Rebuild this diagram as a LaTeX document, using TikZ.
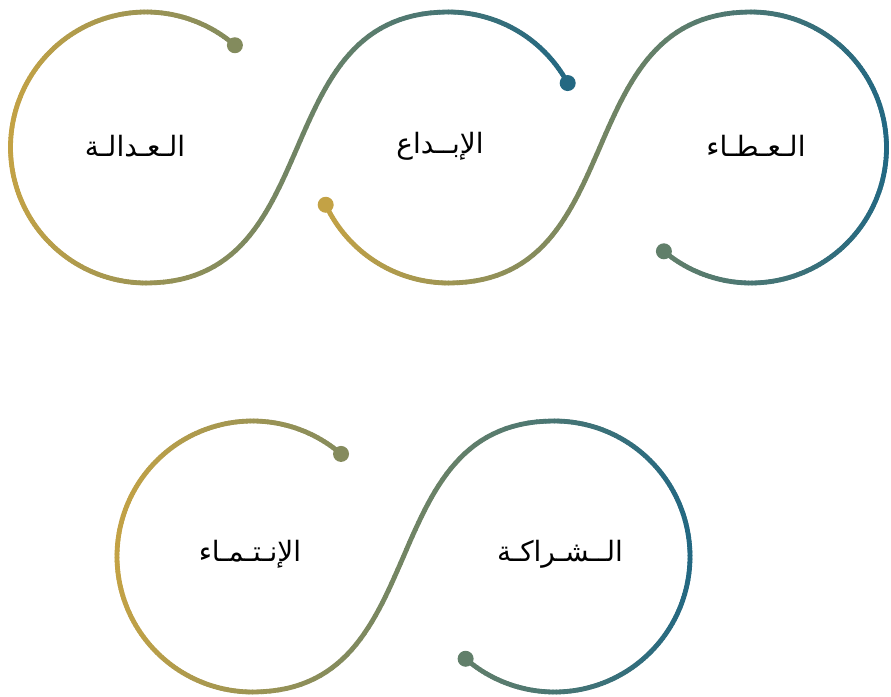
\documentclass[tikz,border=0pt]{standalone}
\usepackage{fontspec}
\newfontfamily\arabicfont[Script=Arabic]{DejaVu Sans}
\TeXXeTstate=1
\definecolor{cgold}{HTML}{C3A245}
\definecolor{cteal}{HTML}{236882}
\tikzset{
  arcline/.style={line width=4.8pt, line cap=round},
  lbl/.style={font=\arabicfont\fontsize{28}{32}\selectfont, text=black, inner sep=0pt}
}
% gradient arc: cx, cy, r, a0, a1, xmin, xmax
\newcommand{\gradarc}[7]{%
  \pgfmathtruncatemacro\gN{ceil(abs(#5-#4)/1.5)}%
  \pgfmathsetmacro\gS{(#5-#4)/\gN}%
  \foreach \gi in {1,...,\gN}{%
    \pgfmathsetmacro\gAa{#4+\gS*(\gi-1)}%
    \pgfmathsetmacro\gAb{#4+\gS*\gi}%
    \pgfmathsetmacro\gXm{#1+#3*cos((\gAa+\gAb)/2)}%
    \pgfmathsetmacro\gF{(\gXm-#6)/(#7-#6)}%
    \pgfmathtruncatemacro\gT{max(0,min(100,round(\gF*100)))}%
    \draw[arcline, draw=cteal!\gT!cgold] ({#1+#3*cos(\gAa)},{#2-#3*sin(\gAa)}) -- ({#1+#3*cos(\gAb)},{#2-#3*sin(\gAb)});%
  }%
}
% gradient S-curve (cubic Bezier, horizontal tangents): x0, y0, x3, y3, k, xmin, xmax
\newcommand{\gradbez}[7]{%
  \foreach \gi in {1,...,60}{%
    \pgfmathsetmacro\gta{(\gi-1)/60}%
    \pgfmathsetmacro\gtb{\gi/60}%
    \pgfmathsetmacro\gXa{(1-\gta)^3*#1+3*(1-\gta)^2*\gta*(#1+#5)+3*(1-\gta)*\gta^2*(#3-#5)+\gta^3*#3}%
    \pgfmathsetmacro\gYa{(1-\gta)^3*#2+3*(1-\gta)^2*\gta*#2+3*(1-\gta)*\gta^2*#4+\gta^3*#4}%
    \pgfmathsetmacro\gXb{(1-\gtb)^3*#1+3*(1-\gtb)^2*\gtb*(#1+#5)+3*(1-\gtb)*\gtb^2*(#3-#5)+\gtb^3*#3}%
    \pgfmathsetmacro\gYb{(1-\gtb)^3*#2+3*(1-\gtb)^2*\gtb*#2+3*(1-\gtb)*\gtb^2*#4+\gtb^3*#4}%
    \pgfmathsetmacro\gF{((\gXa+\gXb)/2-#6)/(#7-#6)}%
    \pgfmathtruncatemacro\gT{max(0,min(100,round(\gF*100)))}%
    \draw[arcline, draw=cteal!\gT!cgold] (\gXa,\gYa) -- (\gXb,\gYb);%
  }%
}
% end dot: cx, cy, r, angle, xmin, xmax, name
\newcommand{\gdot}[7]{%
  \pgfmathsetmacro\gDx{#1+#3*cos(#4)}%
  \pgfmathsetmacro\gDy{#2-#3*sin(#4)}%
  \pgfmathsetmacro\gF{(\gDx-#5)/(#6-#5)}%
  \pgfmathtruncatemacro\gT{max(0,min(100,round(\gF*100)))}%
  \coordinate (#7) at (\gDx,\gDy);%
  \fill[cteal!\gT!cgold] (#7) circle[radius=8pt];%
}
\begin{document}
\begin{tikzpicture}[x=1pt,y=-1pt]
\useasboundingbox (0,0) rectangle (891,696);
\fill[white] (0,0) rectangle (891,696);
% ---- top row, path A: left circle -> middle circle top
\gradarc{146}{147.5}{135.5}{49}{270}{10.5}{566}
\gradbez{146}{283}{448.5}{12}{185}{10.5}{566}
\gradarc{448.5}{147.5}{135.5}{90}{28.4}{10.5}{566}
\gdot{146}{147.5}{135.5}{49}{10.5}{566}{dA1}
\gdot{448.5}{147.5}{135.5}{28.4}{10.5}{566}{dA2}
% ---- top row, path B: middle circle bottom -> right circle
\gradarc{448.5}{147.5}{135.5}{205}{270}{323}{886}
\gradbez{448.5}{283}{751}{12}{185}{323}{886}
\gradarc{751}{147.5}{135.5}{90}{-130}{323}{886}
\gdot{448.5}{147.5}{135.5}{205}{323}{886}{dB1}
\gdot{751}{147.5}{135.5}{-130}{323}{886}{dB2}
% ---- bottom row
\gradarc{252.5}{556.5}{135.5}{49.2}{270}{117}{690}
\gradbez{252.5}{692}{554.5}{421}{185}{117}{690}
\gradarc{554.5}{556.5}{135.5}{90}{-131}{117}{690}
\gdot{252.5}{556.5}{135.5}{49.2}{117}{690}{dC1}
\gdot{554.5}{556.5}{135.5}{-131}{117}{690}{dC2}
% ---- labels
\node[lbl] (t1) at (135,146) {\beginR الـعـدالـة\endR};
\node[lbl] (t2) at (440,146) {\beginR الإبــداع\endR};
\node[lbl] (t3) at (756,146) {\beginR الـعـطـاء\endR};
\node[lbl] (t4) at (250,554) {\beginR الإنـتـمـاء\endR};
\node[lbl] (t5) at (560,554) {\beginR الــشـراكـة\endR};
\end{tikzpicture}
\end{document}
